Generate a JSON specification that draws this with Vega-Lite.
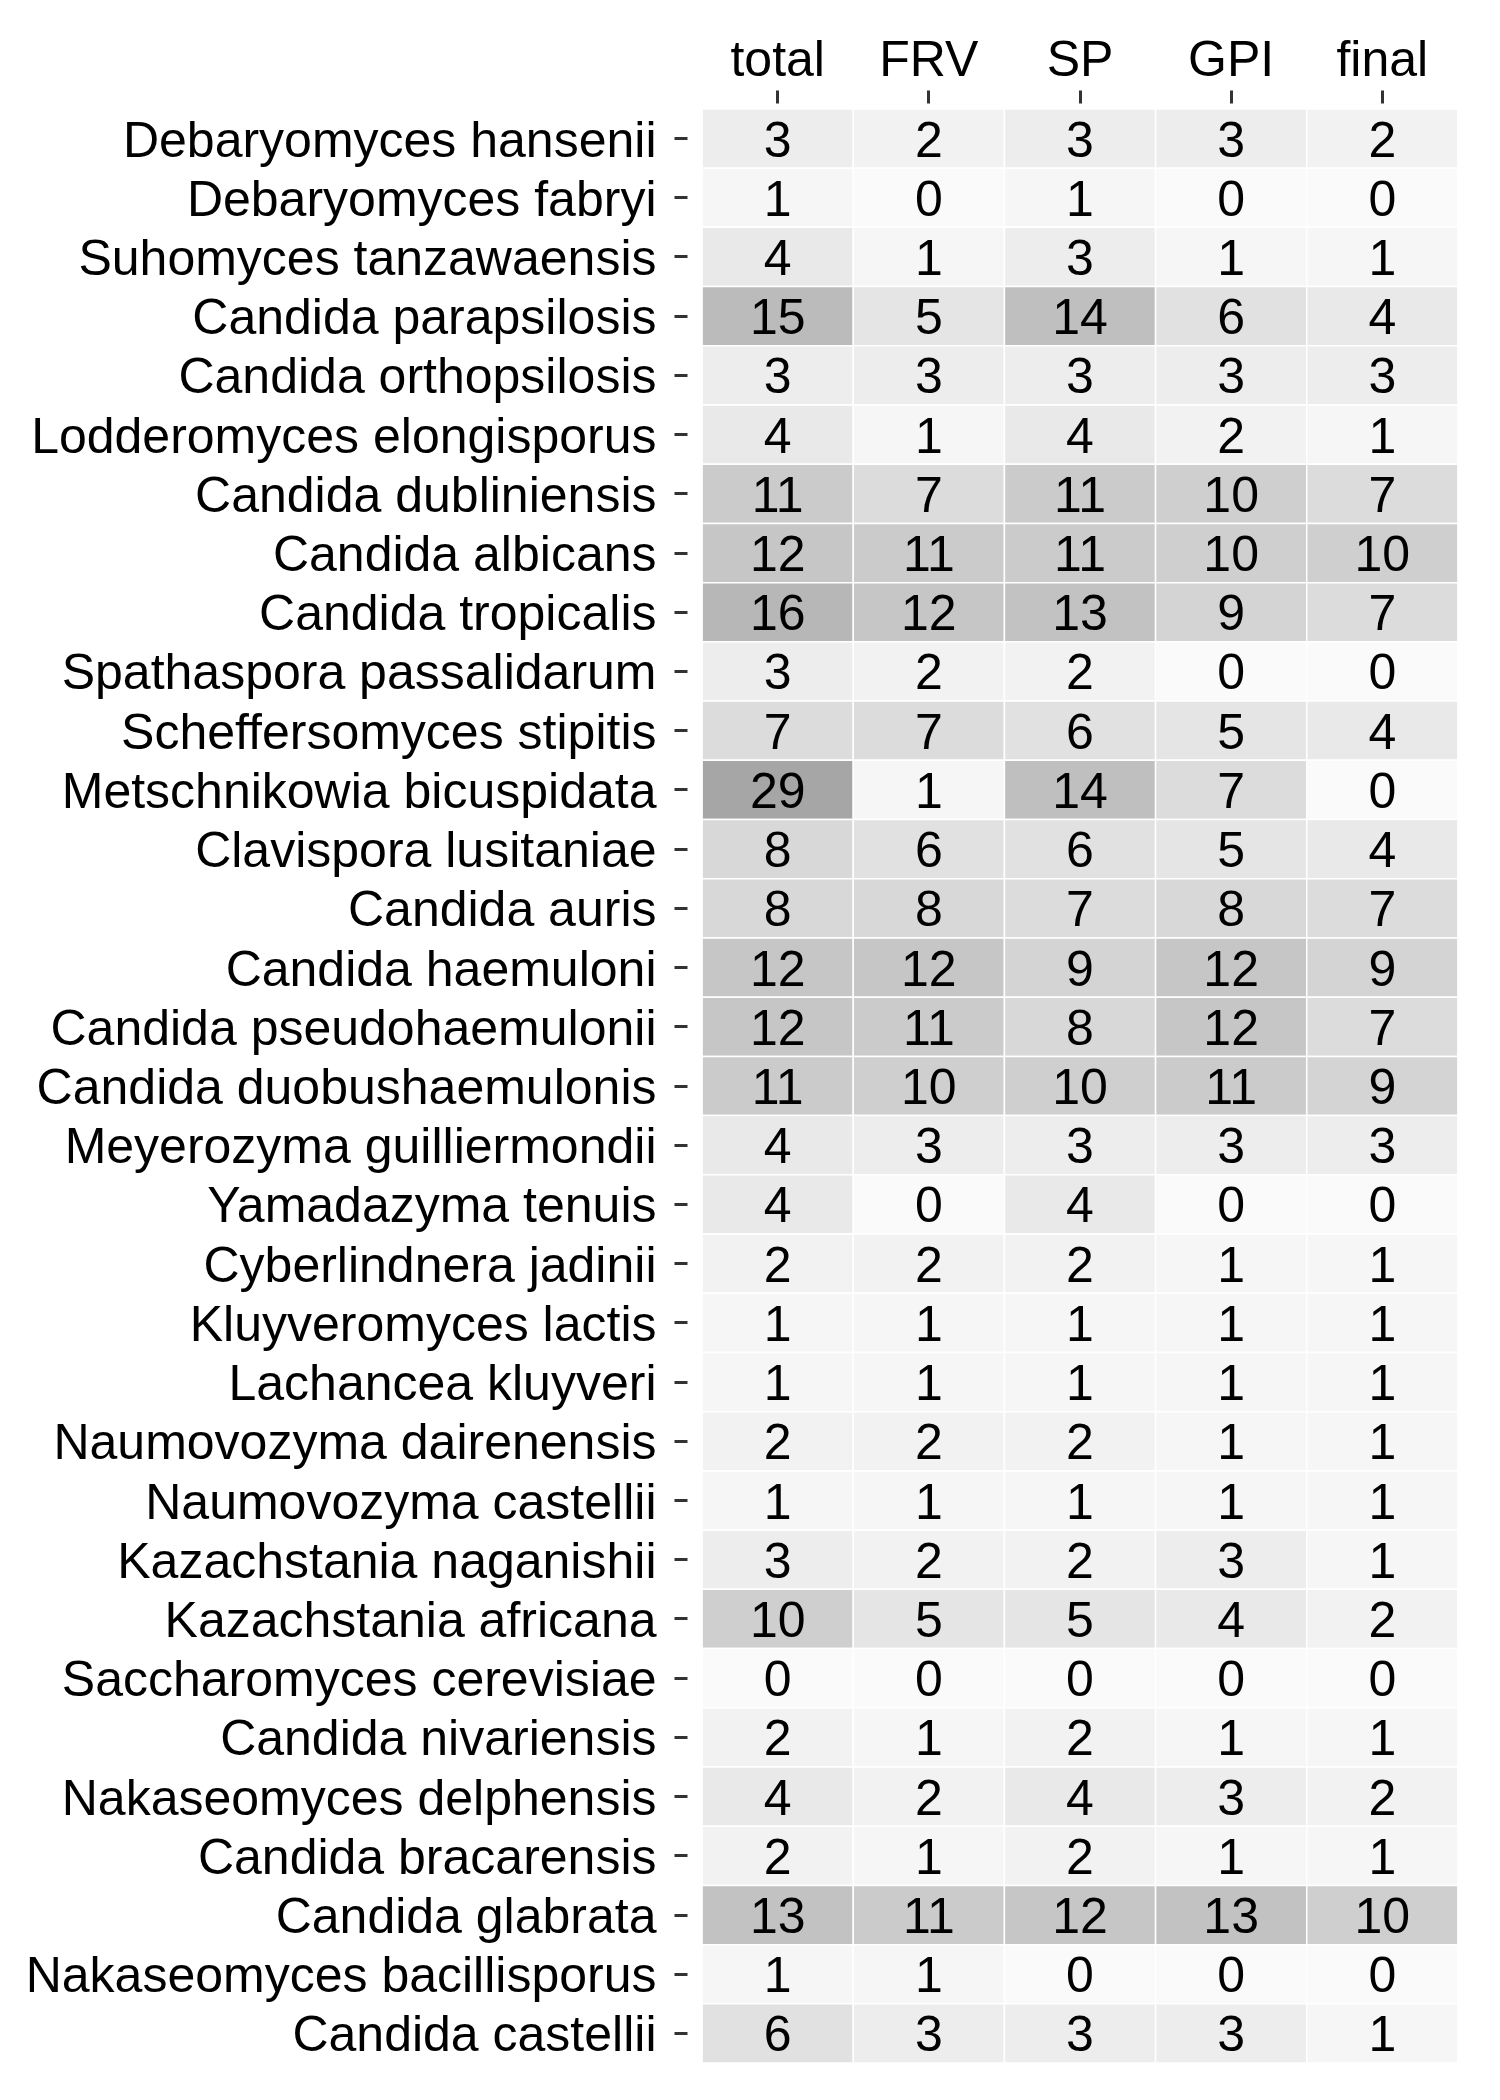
{
  "$schema": "https://vega.github.io/schema/vega-lite/v6.json",
  "width": 786,
  "height": 1966,
  "autosize": "none",
  "padding": {"left": 687, "top": 103, "right": 27, "bottom": 31},
  "background": "white",
  "config": {"view": {"stroke": null}, "font": "Liberation Sans"},
  "data": {"values": [
    {"s":"Debaryomyces hansenii","m":"total","v":3},{"s":"Debaryomyces hansenii","m":"FRV","v":2},{"s":"Debaryomyces hansenii","m":"SP","v":3},{"s":"Debaryomyces hansenii","m":"GPI","v":3},{"s":"Debaryomyces hansenii","m":"final","v":2},
    {"s":"Debaryomyces fabryi","m":"total","v":1},{"s":"Debaryomyces fabryi","m":"FRV","v":0},{"s":"Debaryomyces fabryi","m":"SP","v":1},{"s":"Debaryomyces fabryi","m":"GPI","v":0},{"s":"Debaryomyces fabryi","m":"final","v":0},
    {"s":"Suhomyces tanzawaensis","m":"total","v":4},{"s":"Suhomyces tanzawaensis","m":"FRV","v":1},{"s":"Suhomyces tanzawaensis","m":"SP","v":3},{"s":"Suhomyces tanzawaensis","m":"GPI","v":1},{"s":"Suhomyces tanzawaensis","m":"final","v":1},
    {"s":"Candida parapsilosis","m":"total","v":15},{"s":"Candida parapsilosis","m":"FRV","v":5},{"s":"Candida parapsilosis","m":"SP","v":14},{"s":"Candida parapsilosis","m":"GPI","v":6},{"s":"Candida parapsilosis","m":"final","v":4},
    {"s":"Candida orthopsilosis","m":"total","v":3},{"s":"Candida orthopsilosis","m":"FRV","v":3},{"s":"Candida orthopsilosis","m":"SP","v":3},{"s":"Candida orthopsilosis","m":"GPI","v":3},{"s":"Candida orthopsilosis","m":"final","v":3},
    {"s":"Lodderomyces elongisporus","m":"total","v":4},{"s":"Lodderomyces elongisporus","m":"FRV","v":1},{"s":"Lodderomyces elongisporus","m":"SP","v":4},{"s":"Lodderomyces elongisporus","m":"GPI","v":2},{"s":"Lodderomyces elongisporus","m":"final","v":1},
    {"s":"Candida dubliniensis","m":"total","v":11},{"s":"Candida dubliniensis","m":"FRV","v":7},{"s":"Candida dubliniensis","m":"SP","v":11},{"s":"Candida dubliniensis","m":"GPI","v":10},{"s":"Candida dubliniensis","m":"final","v":7},
    {"s":"Candida albicans","m":"total","v":12},{"s":"Candida albicans","m":"FRV","v":11},{"s":"Candida albicans","m":"SP","v":11},{"s":"Candida albicans","m":"GPI","v":10},{"s":"Candida albicans","m":"final","v":10},
    {"s":"Candida tropicalis","m":"total","v":16},{"s":"Candida tropicalis","m":"FRV","v":12},{"s":"Candida tropicalis","m":"SP","v":13},{"s":"Candida tropicalis","m":"GPI","v":9},{"s":"Candida tropicalis","m":"final","v":7},
    {"s":"Spathaspora passalidarum","m":"total","v":3},{"s":"Spathaspora passalidarum","m":"FRV","v":2},{"s":"Spathaspora passalidarum","m":"SP","v":2},{"s":"Spathaspora passalidarum","m":"GPI","v":0},{"s":"Spathaspora passalidarum","m":"final","v":0},
    {"s":"Scheffersomyces stipitis","m":"total","v":7},{"s":"Scheffersomyces stipitis","m":"FRV","v":7},{"s":"Scheffersomyces stipitis","m":"SP","v":6},{"s":"Scheffersomyces stipitis","m":"GPI","v":5},{"s":"Scheffersomyces stipitis","m":"final","v":4},
    {"s":"Metschnikowia bicuspidata","m":"total","v":29},{"s":"Metschnikowia bicuspidata","m":"FRV","v":1},{"s":"Metschnikowia bicuspidata","m":"SP","v":14},{"s":"Metschnikowia bicuspidata","m":"GPI","v":7},{"s":"Metschnikowia bicuspidata","m":"final","v":0},
    {"s":"Clavispora lusitaniae","m":"total","v":8},{"s":"Clavispora lusitaniae","m":"FRV","v":6},{"s":"Clavispora lusitaniae","m":"SP","v":6},{"s":"Clavispora lusitaniae","m":"GPI","v":5},{"s":"Clavispora lusitaniae","m":"final","v":4},
    {"s":"Candida auris","m":"total","v":8},{"s":"Candida auris","m":"FRV","v":8},{"s":"Candida auris","m":"SP","v":7},{"s":"Candida auris","m":"GPI","v":8},{"s":"Candida auris","m":"final","v":7},
    {"s":"Candida haemuloni","m":"total","v":12},{"s":"Candida haemuloni","m":"FRV","v":12},{"s":"Candida haemuloni","m":"SP","v":9},{"s":"Candida haemuloni","m":"GPI","v":12},{"s":"Candida haemuloni","m":"final","v":9},
    {"s":"Candida pseudohaemulonii","m":"total","v":12},{"s":"Candida pseudohaemulonii","m":"FRV","v":11},{"s":"Candida pseudohaemulonii","m":"SP","v":8},{"s":"Candida pseudohaemulonii","m":"GPI","v":12},{"s":"Candida pseudohaemulonii","m":"final","v":7},
    {"s":"Candida duobushaemulonis","m":"total","v":11},{"s":"Candida duobushaemulonis","m":"FRV","v":10},{"s":"Candida duobushaemulonis","m":"SP","v":10},{"s":"Candida duobushaemulonis","m":"GPI","v":11},{"s":"Candida duobushaemulonis","m":"final","v":9},
    {"s":"Meyerozyma guilliermondii","m":"total","v":4},{"s":"Meyerozyma guilliermondii","m":"FRV","v":3},{"s":"Meyerozyma guilliermondii","m":"SP","v":3},{"s":"Meyerozyma guilliermondii","m":"GPI","v":3},{"s":"Meyerozyma guilliermondii","m":"final","v":3},
    {"s":"Yamadazyma tenuis","m":"total","v":4},{"s":"Yamadazyma tenuis","m":"FRV","v":0},{"s":"Yamadazyma tenuis","m":"SP","v":4},{"s":"Yamadazyma tenuis","m":"GPI","v":0},{"s":"Yamadazyma tenuis","m":"final","v":0},
    {"s":"Cyberlindnera jadinii","m":"total","v":2},{"s":"Cyberlindnera jadinii","m":"FRV","v":2},{"s":"Cyberlindnera jadinii","m":"SP","v":2},{"s":"Cyberlindnera jadinii","m":"GPI","v":1},{"s":"Cyberlindnera jadinii","m":"final","v":1},
    {"s":"Kluyveromyces lactis","m":"total","v":1},{"s":"Kluyveromyces lactis","m":"FRV","v":1},{"s":"Kluyveromyces lactis","m":"SP","v":1},{"s":"Kluyveromyces lactis","m":"GPI","v":1},{"s":"Kluyveromyces lactis","m":"final","v":1},
    {"s":"Lachancea kluyveri","m":"total","v":1},{"s":"Lachancea kluyveri","m":"FRV","v":1},{"s":"Lachancea kluyveri","m":"SP","v":1},{"s":"Lachancea kluyveri","m":"GPI","v":1},{"s":"Lachancea kluyveri","m":"final","v":1},
    {"s":"Naumovozyma dairenensis","m":"total","v":2},{"s":"Naumovozyma dairenensis","m":"FRV","v":2},{"s":"Naumovozyma dairenensis","m":"SP","v":2},{"s":"Naumovozyma dairenensis","m":"GPI","v":1},{"s":"Naumovozyma dairenensis","m":"final","v":1},
    {"s":"Naumovozyma castellii","m":"total","v":1},{"s":"Naumovozyma castellii","m":"FRV","v":1},{"s":"Naumovozyma castellii","m":"SP","v":1},{"s":"Naumovozyma castellii","m":"GPI","v":1},{"s":"Naumovozyma castellii","m":"final","v":1},
    {"s":"Kazachstania naganishii","m":"total","v":3},{"s":"Kazachstania naganishii","m":"FRV","v":2},{"s":"Kazachstania naganishii","m":"SP","v":2},{"s":"Kazachstania naganishii","m":"GPI","v":3},{"s":"Kazachstania naganishii","m":"final","v":1},
    {"s":"Kazachstania africana","m":"total","v":10},{"s":"Kazachstania africana","m":"FRV","v":5},{"s":"Kazachstania africana","m":"SP","v":5},{"s":"Kazachstania africana","m":"GPI","v":4},{"s":"Kazachstania africana","m":"final","v":2},
    {"s":"Saccharomyces cerevisiae","m":"total","v":0},{"s":"Saccharomyces cerevisiae","m":"FRV","v":0},{"s":"Saccharomyces cerevisiae","m":"SP","v":0},{"s":"Saccharomyces cerevisiae","m":"GPI","v":0},{"s":"Saccharomyces cerevisiae","m":"final","v":0},
    {"s":"Candida nivariensis","m":"total","v":2},{"s":"Candida nivariensis","m":"FRV","v":1},{"s":"Candida nivariensis","m":"SP","v":2},{"s":"Candida nivariensis","m":"GPI","v":1},{"s":"Candida nivariensis","m":"final","v":1},
    {"s":"Nakaseomyces delphensis","m":"total","v":4},{"s":"Nakaseomyces delphensis","m":"FRV","v":2},{"s":"Nakaseomyces delphensis","m":"SP","v":4},{"s":"Nakaseomyces delphensis","m":"GPI","v":3},{"s":"Nakaseomyces delphensis","m":"final","v":2},
    {"s":"Candida bracarensis","m":"total","v":2},{"s":"Candida bracarensis","m":"FRV","v":1},{"s":"Candida bracarensis","m":"SP","v":2},{"s":"Candida bracarensis","m":"GPI","v":1},{"s":"Candida bracarensis","m":"final","v":1},
    {"s":"Candida glabrata","m":"total","v":13},{"s":"Candida glabrata","m":"FRV","v":11},{"s":"Candida glabrata","m":"SP","v":12},{"s":"Candida glabrata","m":"GPI","v":13},{"s":"Candida glabrata","m":"final","v":10},
    {"s":"Nakaseomyces bacillisporus","m":"total","v":1},{"s":"Nakaseomyces bacillisporus","m":"FRV","v":1},{"s":"Nakaseomyces bacillisporus","m":"SP","v":0},{"s":"Nakaseomyces bacillisporus","m":"GPI","v":0},{"s":"Nakaseomyces bacillisporus","m":"final","v":0},
    {"s":"Candida castellii","m":"total","v":6},{"s":"Candida castellii","m":"FRV","v":3},{"s":"Candida castellii","m":"SP","v":3},{"s":"Candida castellii","m":"GPI","v":3},{"s":"Candida castellii","m":"final","v":1}
  ]},
  "encoding": {
    "x": {"field": "m", "type": "nominal", "sort": ["total", "FRV", "SP", "GPI", "final"],
      "scale": {"paddingInner": 0, "paddingOuter": 0.1},
      "axis": {"orient": "top", "title": null, "labelAngle": 0, "domain": false, "grid": false,
        "tickSize": 13, "tickWidth": 3, "tickColor": "#333333",
        "labelFontSize": 50, "labelColor": "#000000", "labelPadding": 15, "labelBaseline": "alphabetic", "labelFont": "Liberation Sans"}},
    "y": {"field": "s", "type": "nominal", "sort": null,
      "scale": {"paddingInner": 0, "paddingOuter": 0.1},
      "axis": {"title": null, "domain": false, "grid": false,
        "tickSize": 13, "tickWidth": 3, "tickColor": "#333333",
        "labelFontSize": 50, "labelColor": "#000000", "labelPadding": 18, "labelOffset": 3, "labelLimit": 700, "labelFont": "Liberation Sans"}}
  },
  "layer": [
    {"mark": {"type": "rect", "stroke": "white", "strokeWidth": 1.5},
     "encoding": {"fill": {"field": "v", "type": "quantitative",
       "scale": {"domain": [0, 8, 12, 16, 29], "range": ["#fafafa", "#d8d8d8", "#c6c6c6", "#b7b7b7", "#a6a6a6"], "interpolate": "rgb"},
       "legend": null}}},
    {"mark": {"type": "text", "fontSize": 50, "fill": "#000000", "baseline": "middle", "dy": 3, "font": "Liberation Sans"},
     "encoding": {"text": {"field": "v", "type": "quantitative"}}}
  ]
}
